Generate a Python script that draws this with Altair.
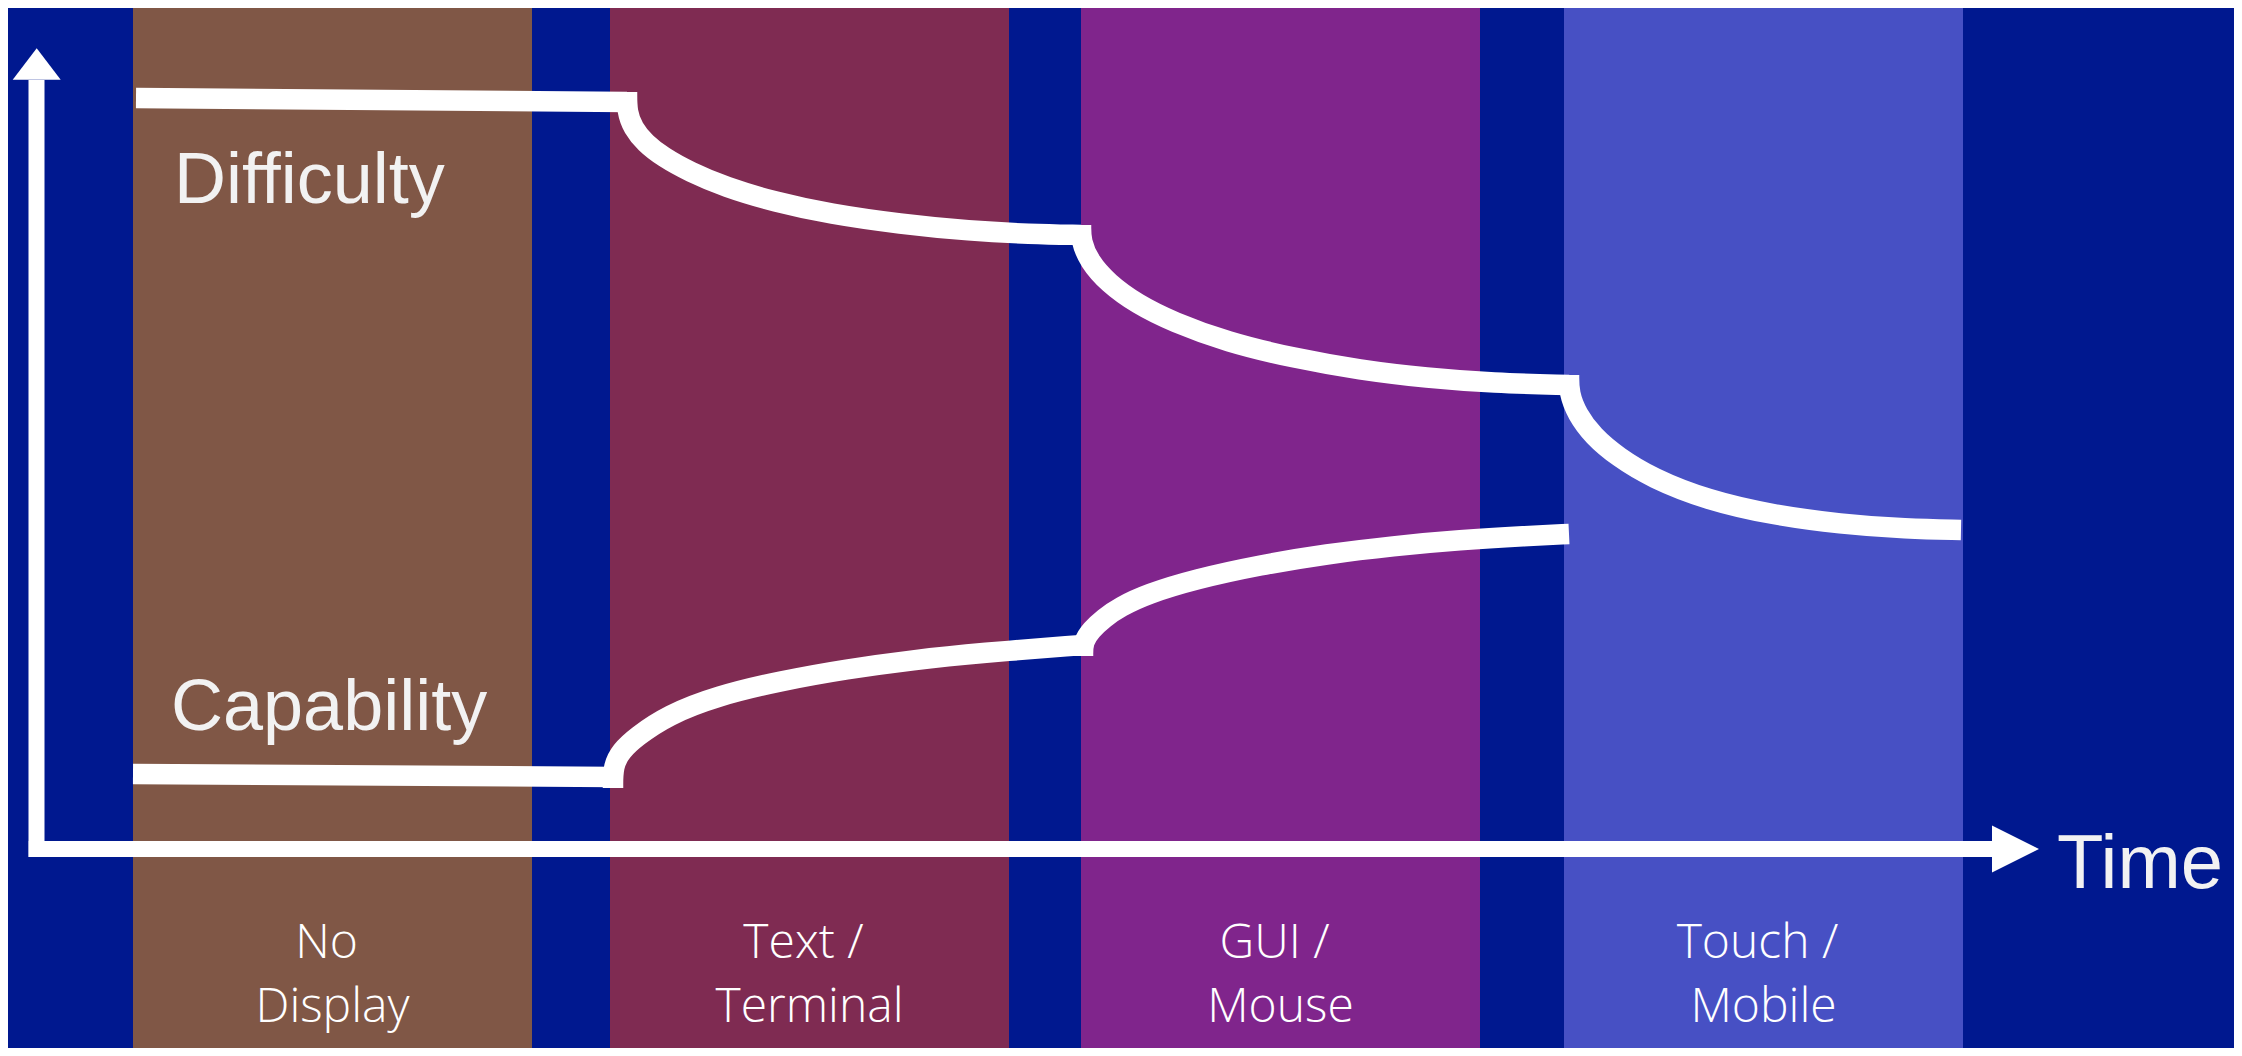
import altair as alt
import pandas as pd

# ---- plot frame (reference pixel space: x to the right, level = upward) ----
W, H = 2226, 1040
X_DOMAIN = [8, 2234]
Y_DOMAIN = [8, 1048]
BG = "#00188F"

# ---- eras (background bands) ----
eras = ["No Display", "Text / Terminal", "GUI / Mouse", "Touch / Mobile"]
era_start = [133, 610, 1081, 1564]
era_end = [532, 1009, 1480, 1963]
era_bottom = [0, 0, 0, 0]
era_top = [1049, 1049, 1049, 1049]
era_colors = ["#805746", "#7F2B52", "#80258C", "#4750C4"]
era_line1 = ["No", "Text /", "GUI /", "Touch /"]
era_line2 = ["Display", "Terminal", "Mouse", "Mobile"]
era_line1_level = 98
era_line2_level = 34

# ---- Difficulty curve pieces (x, level) ----
diff_pieces = [
    ([136, 627], [958, 954]),
    ([627, 627, 633, 645, 663, 690, 725, 775, 830, 900, 970, 1030, 1081],
     [964, 944, 928, 913, 899, 884, 869, 854, 842, 832, 825, 822, 821]),
    ([1081, 1081, 1089, 1108, 1137, 1173, 1227, 1293, 1360, 1427, 1493, 1569],
     [831, 815, 795, 773, 752, 734, 714, 698, 686, 678, 673, 671]),
    ([1569, 1569, 1577, 1593, 1618, 1652, 1707, 1773, 1840, 1907, 1961],
     [681, 663, 642, 620, 599, 578, 556, 541, 532, 527, 526]),
]

# ---- Capability curve pieces (x, level) ----
cap_pieces = [
    ([133, 613], [282, 279]),
    ([613, 613, 621, 636, 668, 717, 780, 847, 913, 980, 1083],
     [268, 290, 305, 319, 341, 360, 375, 387, 396, 403, 411]),
    ([1083, 1083, 1091, 1104, 1120, 1147, 1196, 1260, 1327, 1393, 1460, 1527, 1569],
     [400, 414, 426, 438, 449, 462, 477, 491, 502, 510, 516, 520, 522]),
]

# ---- axes arrows ----
y_axis_x = 36.5
y_axis_from, y_axis_to = 199, 976
y_head = (36.7, 992)
x_axis_level = 207
x_axis_from, x_axis_to = 28.7, 1992
x_head = (2015.5, 207)

# ---- labels ----
series_labels = ["Difficulty", "Capability"]
series_label_x = [174, 171]
series_label_level = [853, 326]
time_label = "Time"
time_x, time_level = 2057, 168

# ------------------------------------------------------------------
xs = alt.Scale(domain=X_DOMAIN, nice=False, zero=False)
ys = alt.Scale(domain=Y_DOMAIN, nice=False, zero=False)

band_df = pd.DataFrame({
    "era": eras, "start": era_start, "end": era_end,
    "bottom": era_bottom, "top": era_top,
})
bands = alt.Chart(band_df).mark_rect(clip=True).encode(
    x=alt.X("start:Q", scale=xs, axis=None),
    x2="end:Q",
    y=alt.Y("bottom:Q", scale=ys, axis=None),
    y2="top:Q",
    color=alt.Color("era:N", scale=alt.Scale(domain=eras, range=era_colors), legend=None),
)

centers = [(a + b) / 2 for a, b in zip(era_start, era_end)]
line1_df = pd.DataFrame({"x": centers, "level": [era_line1_level] * 4, "t": era_line1})
line2_df = pd.DataFrame({"x": centers, "level": [era_line2_level] * 4, "t": era_line2})
text_style = dict(font="Open Sans", fontWeight=300, fontSize=48, color="#FFFFFF",
                  align="center", baseline="alphabetic")
band_text1 = alt.Chart(line1_df).mark_text(dx=-6, **text_style).encode(
    x=alt.X("x:Q", scale=xs, axis=None),
    y=alt.Y("level:Q", scale=ys, axis=None),
    text="t:N",
)
band_text2 = alt.Chart(line2_df).mark_text(**text_style).encode(
    x=alt.X("x:Q", scale=xs, axis=None),
    y=alt.Y("level:Q", scale=ys, axis=None),
    text="t:N",
)

line_rows = []
for name, pieces in (("Difficulty", diff_pieces), ("Capability", cap_pieces)):
    for p, (px, pl) in enumerate(pieces):
        for k, (a, b) in enumerate(zip(px, pl)):
            line_rows.append({"piece": f"{name}-{p}", "x": a, "level": b, "idx": k})
lines = alt.Chart(pd.DataFrame(line_rows)).mark_line(
    color="#FFFFFF", strokeWidth=20.5, strokeCap="butt", strokeJoin="round",
    interpolate="basis", clip=True,
).encode(
    x=alt.X("x:Q", scale=xs, axis=None),
    y=alt.Y("level:Q", scale=ys, axis=None),
    detail="piece:N",
    order="idx:Q",
)

v_axis = alt.Chart(pd.DataFrame({"x": [y_axis_x], "l1": [y_axis_from], "l2": [y_axis_to]})).mark_rule(
    color="#FFFFFF", strokeWidth=16, strokeCap="butt"
).encode(
    x=alt.X("x:Q", scale=xs, axis=None),
    y=alt.Y("l1:Q", scale=ys, axis=None),
    y2="l2:Q",
)
h_axis = alt.Chart(pd.DataFrame({"x1": [x_axis_from], "x2": [x_axis_to], "l": [x_axis_level]})).mark_rule(
    color="#FFFFFF", strokeWidth=16, strokeCap="butt"
).encode(
    x=alt.X("x1:Q", scale=xs, axis=None),
    x2="x2:Q",
    y=alt.Y("l:Q", scale=ys, axis=None),
)
up_head = alt.Chart(pd.DataFrame({"x": [y_head[0]], "level": [y_head[1]]})).mark_point(
    shape="M0,-0.66L1,0.66L-1,0.66Z", size=2304, filled=True, opacity=1,
    color="#FFFFFF", strokeWidth=0,
).encode(
    x=alt.X("x:Q", scale=xs, axis=None),
    y=alt.Y("level:Q", scale=ys, axis=None),
)
right_head = alt.Chart(pd.DataFrame({"x": [x_head[0]], "level": [x_head[1]]})).mark_point(
    shape="M1,0L-1,-1L-1,1Z", size=2209, filled=True, opacity=1,
    color="#FFFFFF", strokeWidth=0,
).encode(
    x=alt.X("x:Q", scale=xs, axis=None),
    y=alt.Y("level:Q", scale=ys, axis=None),
)

series_text = alt.Chart(pd.DataFrame({
    "t": series_labels, "x": series_label_x, "level": series_label_level,
})).mark_text(
    font="Liberation Sans", fontSize=72, color="#F2F2F2",
    align="left", baseline="alphabetic",
).encode(
    x=alt.X("x:Q", scale=xs, axis=None),
    y=alt.Y("level:Q", scale=ys, axis=None),
    text="t:N",
)
time_text = alt.Chart(pd.DataFrame({"t": [time_label], "x": [time_x], "level": [time_level]})).mark_text(
    font="Liberation Sans", fontSize=76, color="#F2F2F2",
    align="left", baseline="alphabetic",
).encode(
    x=alt.X("x:Q", scale=xs, axis=None),
    y=alt.Y("level:Q", scale=ys, axis=None),
    text="t:N",
)

chart = alt.layer(
    bands, band_text1, band_text2, lines, v_axis, h_axis, up_head, right_head,
    series_text, time_text
).properties(
    width=W, height=H, background=BG, padding=0,
    autosize=alt.AutoSizeParams(type="none"),
).configure_view(stroke=None)

chart.save("out.html", embed_options={"renderer": "svg", "actions": False})
